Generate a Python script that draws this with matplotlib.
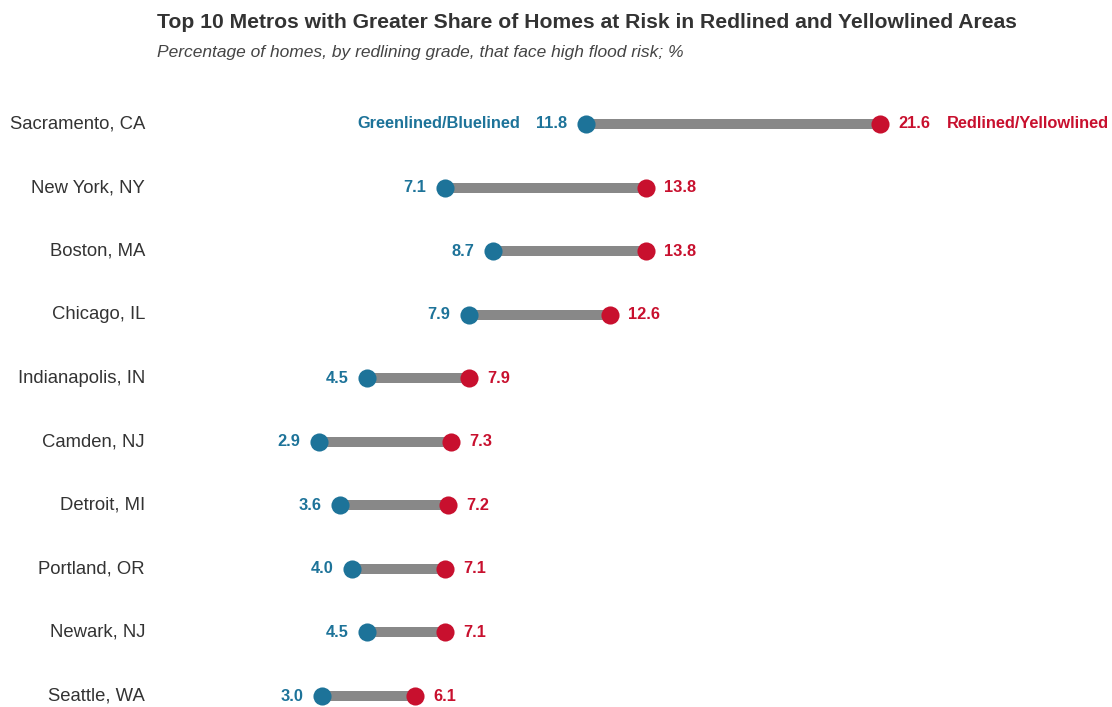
import matplotlib.pyplot as plt

plt.rcParams['font.family'] = ['Liberation Sans', 'DejaVu Sans']

metros = ["Sacramento, CA", "New York, NY", "Boston, MA", "Chicago, IL", "Indianapolis, IN",
          "Camden, NJ", "Detroit, MI", "Portland, OR", "Newark, NJ", "Seattle, WA"]
green_blue = [11.8, 7.1, 8.7, 7.9, 4.5, 2.9, 3.6, 4.0, 4.5, 3.0]
red_yellow = [21.6, 13.8, 13.8, 12.6, 7.9, 7.3, 7.2, 7.1, 7.1, 6.1]

BLUE = "#1d7399"
RED = "#c8102e"
GRAY = "#888888"

fig = plt.figure(figsize=(11.12, 7.07), dpi=100)
ax = fig.add_axes([0, 0, 1, 1])
ax.set_xlim(-232 / 30, (1112 - 232) / 30)
ax.set_ylim(9 + 11 / 63.56, -124 / 63.56)
ax.axis('off')

for i, (m, g, r) in enumerate(zip(metros, green_blue, red_yellow)):
    ax.plot([g, r], [i, i], color=GRAY, lw=7.2, solid_capstyle='butt', zorder=1)
    ax.scatter([g], [i], s=170, color=BLUE, zorder=2, linewidths=0)
    ax.scatter([r], [i], s=170, color=RED, zorder=2, linewidths=0)
    ax.annotate(f"{g:.1f}", (g, i), xytext=(-13.5, 0), textcoords='offset points',
                ha='right', va='center', color=BLUE, fontsize=11.8, fontweight='bold')
    ax.annotate(f"{r:.1f}", (r, i), xytext=(13, 0), textcoords='offset points',
                ha='left', va='center', color=RED, fontsize=11.8, fontweight='bold')
    ax.text(-2.9, i, m, ha='right', va='center', fontsize=13.3, color='#333333')

# series labels on first row
ax.annotate("Greenlined/Bluelined", (green_blue[0], 0), xytext=(-47.5, 0), textcoords='offset points',
            ha='right', va='center', color=BLUE, fontsize=11.8, fontweight='bold')
ax.annotate("Redlined/Yellowlined", (red_yellow[0], 0), xytext=(48, 0), textcoords='offset points',
            ha='left', va='center', color=RED, fontsize=11.8, fontweight='bold')

fig.text(157 / 1112, 1 - 22 / 707, "Top 10 Metros with Greater Share of Homes at Risk in Redlined and Yellowlined Areas",
         ha='left', va='center', fontsize=15.2, fontweight='bold', color='#333333')
fig.text(157 / 1112, 1 - 53 / 707, "Percentage of homes, by redlining grade, that face high flood risk; %",
         ha='left', va='center', fontsize=12.5, style='italic', color='#444444')

fig.savefig("out.png", dpi=100, facecolor='white')
